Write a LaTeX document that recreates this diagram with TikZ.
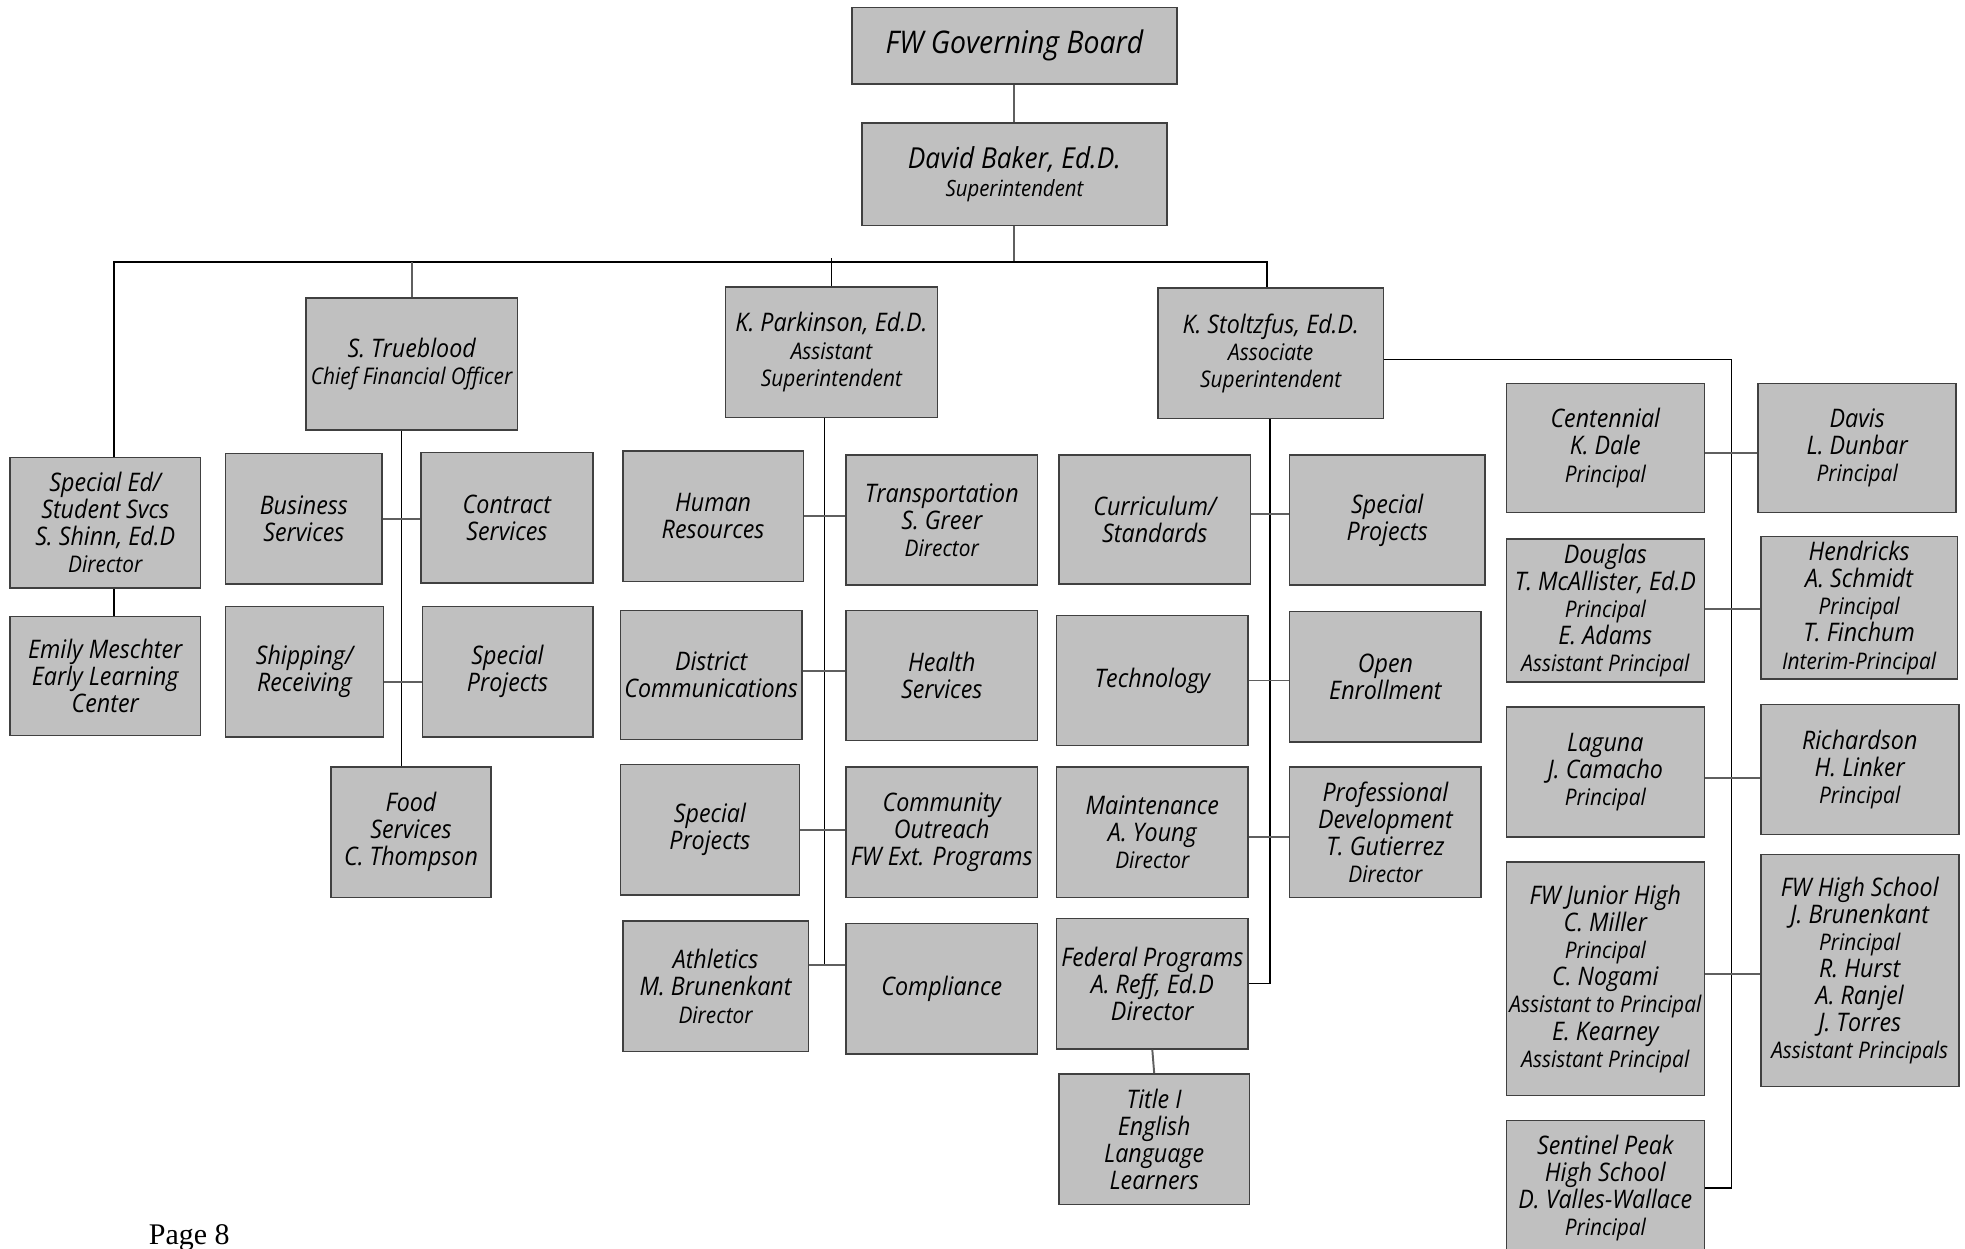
\documentclass[tikz,border=0pt]{standalone}
\usepackage{fontspec}
\usepackage{tikz}
\usetikzlibrary{calc}
\newfontfamily\orgfont{Open Sans}[FakeStretch=0.91]
\newfontfamily\pagefont{Liberation Serif}
\definecolor{boxfill}{RGB}{192,192,192}
\definecolor{boxline}{RGB}{64,64,64}
\definecolor{linkgray}{RGB}{95,95,95}
\newcommand{\mtxt}{\fontsize{14.5}{15.4}\selectfont}
\newcommand{\stxt}[1]{{\fontsize{13}{15.4}\selectfont #1}}

\begin{document}
\begin{tikzpicture}[x=0.025cm, y=-0.025cm,
    orgbox/.style={draw=boxline, fill=boxfill, line width=0.9pt, align=center,
      inner sep=1pt, font=\orgfont\itshape\mtxt},
    sz/.style 2 args={minimum width=#1*0.025cm, minimum height=#2*0.025cm},
    spine/.style={draw=black, line width=0.8pt},
    link/.style={draw=linkgray, line width=1.1pt}]
  \useasboundingbox (0,0) rectangle (1568,996);
  \clip (0,0) rectangle (1568,996);

  % top
  \node[orgbox, sz={259}{61}, font=\orgfont\itshape\fontsize{17.7}{19}\selectfont] (board) at (809.5,36.5) {FW Governing Board};
  \node[orgbox, sz={243}{82}] (baker) at (809.5,139)
    {{\fontsize{16.4}{15.6}\selectfont David Baker, Ed.D.}\\{\fontsize{12.7}{15.6}\selectfont Superintendent}};

  % second level
  \node[orgbox, sz={169}{105}] (trueblood) at (328.5,290.5) {S. Trueblood\\\stxt{Chief Financial Officer}};
  \node[orgbox, sz={169}{104}] (parkinson) at (663.5,281) {K. Parkinson, Ed.D.\\\stxt{Assistant}\\\stxt{Superintendent}};
  \node[orgbox, sz={180}{104}] (stoltzfus) at (1014,282) {K. Stoltzfus, Ed.D.\\\stxt{Associate}\\\stxt{Superintendent}};
  \node[orgbox, sz={152}{104}] (sped) at (84,417) {Special Ed/\\Student Svcs\\S. Shinn, Ed.D\\\stxt{Director}};
  \node[orgbox, sz={152}{95}] (meschter) at (84,539.5) {Emily Meschter\\Early Learning\\Center};

  % finance
  \node[orgbox, sz={125}{104}] (business) at (242.5,414) {Business\\Services};
  \node[orgbox, sz={137}{104}] (contract) at (404.5,413) {Contract\\Services};
  \node[orgbox, sz={126}{104}] (shipping) at (243,536) {Shipping/\\Receiving};
  \node[orgbox, sz={136}{104}] (tbprojects) at (405,536) {Special\\Projects};
  \node[orgbox, sz={128}{104}] (food) at (328,664) {Food\\Services\\C. Thompson};

  % assistant superintendent
  \node[orgbox, sz={144}{104}] (hr) at (569,412) {Human\\Resources};
  \node[orgbox, sz={153}{104}] (transport) at (751.5,415) {Transportation\\S. Greer\\\stxt{Director}};
  \node[orgbox, sz={145}{103}] (districtcomm) at (567.5,538.5) {District\\Communications};
  \node[orgbox, sz={153}{104}] (health) at (751.5,539) {Health\\Services};
  \node[orgbox, sz={143}{104}] (kpprojects) at (566.5,662) {Special\\Projects};
  \node[orgbox, sz={153}{104}] (outreach) at (751.5,664) {Community\\Outreach\\FW Ext. Programs};
  \node[orgbox, sz={148}{104}] (athletics) at (571,787) {Athletics\\M. Brunenkant\\\stxt{Director}};
  \node[orgbox, sz={153}{104}] (compliance) at (751.5,789) {Compliance};

  % associate superintendent
  \node[orgbox, sz={153}{103}] (curriculum) at (921.5,414.5) {Curriculum/\\Standards};
  \node[orgbox, sz={156}{104}] (ksprojects) at (1107,415) {Special\\Projects};
  \node[orgbox, sz={153}{104}] (technology) at (919.5,543) {Technology};
  \node[orgbox, sz={153}{104}] (enrollment) at (1105.5,540) {Open\\Enrollment};
  \node[orgbox, sz={153}{104}] (maintenance) at (919.5,664) {Maintenance\\A. Young\\\stxt{Director}};
  \node[orgbox, sz={153}{104}] (profdev) at (1105.5,664) {Professional\\Development\\T. Gutierrez\\\stxt{Director}};
  \node[orgbox, sz={153}{104}] (federal) at (919.5,785) {Federal Programs\\A. Reff, Ed.D\\Director};
  \node[orgbox, sz={152}{104}] (titlei) at (921,909) {Title I\\English\\Language\\Learners};

  % schools
  \node[orgbox, sz={158}{103}] (centennial) at (1281,357.5) {Centennial\\K. Dale\\\stxt{Principal}};
  \node[orgbox, sz={158}{103}] (davis) at (1482,357.5) {Davis\\L. Dunbar\\\stxt{Principal}};
  \node[orgbox, sz={158}{114}] (douglas) at (1281,487) {Douglas\\T. McAllister, Ed.D\\\stxt{Principal}\\E. Adams\\\stxt{Assistant Principal}};
  \node[orgbox, sz={157}{114}] (hendricks) at (1483.5,485) {Hendricks\\A. Schmidt\\\stxt{Principal}\\T. Finchum\\\stxt{Interim-Principal}};
  \node[orgbox, sz={158}{104}] (laguna) at (1281,616) {Laguna\\J. Camacho\\\stxt{Principal}};
  \node[orgbox, sz={158}{104}] (richardson) at (1484,614) {Richardson\\H. Linker\\\stxt{Principal}};
  \node[orgbox, sz={158}{186}] (juniorhigh) at (1281,781) {FW Junior High\\C. Miller\\\stxt{Principal}\\C. Nogami\\\stxt{Assistant to Principal}\\E. Kearney\\\stxt{Assistant Principal}};
  \node[orgbox, sz={158}{185}] (highschool) at (1484,774.5) {FW High School\\J. Brunenkant\\\stxt{Principal}\\R. Hurst\\A. Ranjel\\J. Torres\\\stxt{Assistant Principals}};
  \node[orgbox, sz={158}{108}] (sentinel) at (1281,948) {Sentinel Peak\\High School\\D. Valles-Wallace\\\stxt{Principal}};

  \node[font=\pagefont\fontsize{17}{18}\selectfont, inner sep=0pt] (pagenum) at (151,988) {Page 8};

  % connectors
  \coordinate (barL) at (91,209);
  \coordinate (barR) at (1011,209);
  \coordinate (tbspine) at ($(business.east)!0.5!(contract.west)$);
  \coordinate (kpspine) at ($(hr.east)!0.5!(transport.west)$);
  \coordinate (ksspine) at ($(curriculum.east)!0.5!(ksprojects.west)$);
  \coordinate (schspine) at ($(centennial.east)!0.5!(davis.west)$);

  \draw[link] (board.south) -- (baker.north);
  \draw[link] (baker.south) -- (baker.south |- barL);
  \draw[spine] (sped.north -| barL) -- (barL) -- (barR) -- (barR |- stoltzfus.north);
  \draw[link] (trueblood.north) -- (trueblood.north |- barL);
  \draw[spine] (parkinson.north) -- ([yshift=0.08cm]parkinson.north |- barL);
  \draw[spine] (sped.south -| barL) -- (meschter.north -| barL);

  \draw[spine] (trueblood.south -| tbspine) -- (food.north -| tbspine);
  \draw[link] (business.east) -- (business.east -| contract.west);
  \draw[link] ([yshift=-0.2cm]shipping.east) -- ([yshift=-0.2cm]shipping.east -| tbprojects.west);

  \draw[spine] (parkinson.south -| kpspine) -- ([yshift=0.425cm]athletics.east -| kpspine);
  \draw[link] (hr.east) -- (hr.east -| transport.west);
  \draw[link] ([yshift=0.075cm]districtcomm.east) -- ([yshift=0.075cm]districtcomm.east -| health.west);
  \draw[link] (kpprojects.east) -- (kpprojects.east -| outreach.west);
  \draw[link] ([yshift=0.425cm]athletics.east) -- ([yshift=0.425cm]athletics.east -| compliance.west);

  \draw[spine] (stoltzfus.south -| ksspine) -- (federal.east -| ksspine) -- (federal.east);
  \draw[link] ([yshift=0.1cm]curriculum.east) -- ([yshift=0.1cm]curriculum.east -| ksprojects.west);
  \draw[link] (technology.east) -- (technology.east -| enrollment.west);
  \draw[link] ([yshift=-0.1cm]maintenance.east) -- ([yshift=-0.1cm]maintenance.east -| profdev.west);
  \draw[link] (federal.south) -- (titlei.north);

  \draw[spine] ([yshift=-0.125cm]stoltzfus.east) -| (sentinel.east -| schspine) -- (sentinel.east);
  \draw[link] ([yshift=-0.1cm]centennial.east) -- ([yshift=-0.1cm]centennial.east -| davis.west);
  \draw[link] ([yshift=0.025cm]douglas.east) -- ([yshift=0.025cm]douglas.east -| hendricks.west);
  \draw[link] ([yshift=-0.125cm]laguna.east) -- ([yshift=-0.125cm]laguna.east -| richardson.west);
  \draw[link] ([yshift=0.1cm]juniorhigh.east) -- ([yshift=0.1cm]juniorhigh.east -| highschool.west);
\end{tikzpicture}
\end{document}
